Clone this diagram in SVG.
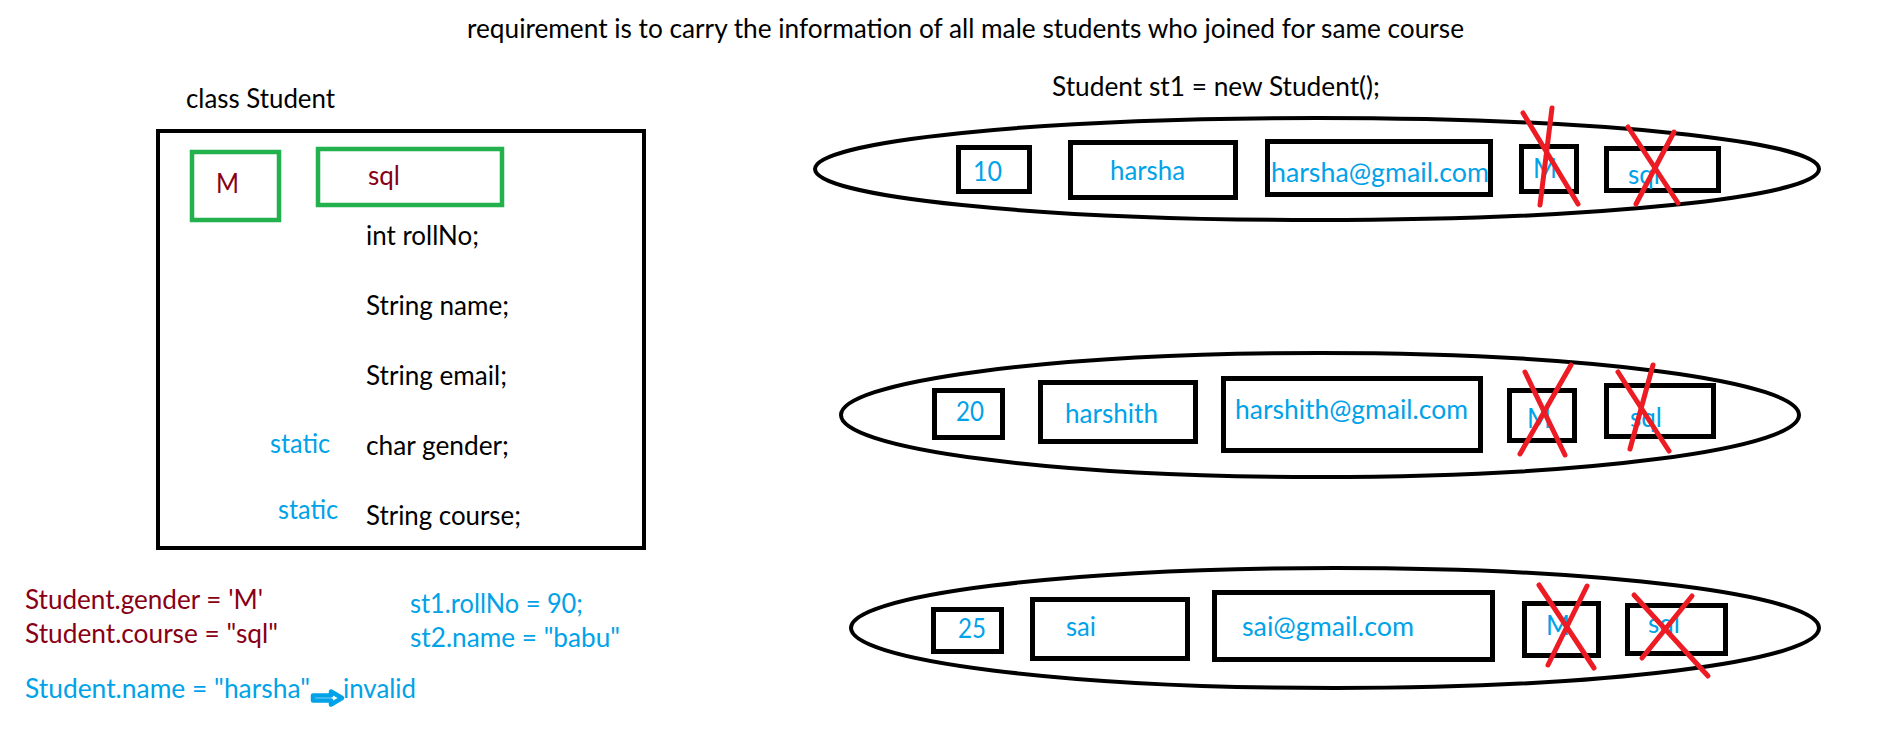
<svg xmlns="http://www.w3.org/2000/svg" width="1886" height="739" viewBox="0 0 1886 739">
<style>
text{font-family:Lato,"Liberation Sans",sans-serif;font-size:26px}
.k{fill:#000}
.b{fill:#00a2e8}
.r{fill:#880015}
.box{fill:none;stroke:#000;stroke-width:5}
.main{fill:none;stroke:#000;stroke-width:4}
.g{fill:none;stroke:#22b14c;stroke-width:4.5}
.ell{fill:none;stroke:#000;stroke-width:4}
.x{stroke:#ed1c24;stroke-width:5;stroke-linecap:round}
</style>
<rect width="1886" height="739" fill="#fff"/>

<g id="title">
<text class="k" x="467" y="38" textLength="997" lengthAdjust="spacingAndGlyphs">requirement is to carry the information of all male students who joined for same course</text>
</g>

<g id="class-student">
<text class="k" x="186" y="108" textLength="149" lengthAdjust="spacingAndGlyphs">class Student</text>
<rect class="main" x="158" y="131" width="486" height="417"/>
<rect class="g" x="192" y="152" width="87" height="68"/>
<text class="r" x="216" y="193" textLength="23" lengthAdjust="spacingAndGlyphs">M</text>
<rect class="g" x="318" y="149" width="184" height="56"/>
<text class="r" x="368" y="185" textLength="32" lengthAdjust="spacingAndGlyphs">sql</text>
<text class="k" x="366" y="245" textLength="113" lengthAdjust="spacingAndGlyphs">int rollNo;</text>
<text class="k" x="366" y="315" textLength="143" lengthAdjust="spacingAndGlyphs">String name;</text>
<text class="k" x="366" y="385" textLength="141" lengthAdjust="spacingAndGlyphs">String email;</text>
<text class="b" x="270" y="453" textLength="60" lengthAdjust="spacingAndGlyphs">static</text>
<text class="k" x="366" y="455" textLength="143" lengthAdjust="spacingAndGlyphs">char gender;</text>
<text class="b" x="278" y="519" textLength="60" lengthAdjust="spacingAndGlyphs">static</text>
<text class="k" x="366" y="525" textLength="155" lengthAdjust="spacingAndGlyphs">String course;</text>
</g>

<g id="static-assign">
<text class="r" x="25" y="609" textLength="238" lengthAdjust="spacingAndGlyphs">Student.gender = 'M'</text>
<text class="r" x="25" y="643" textLength="253" lengthAdjust="spacingAndGlyphs">Student.course = "sql"</text>
</g>

<g id="instance-assign">
<text class="b" x="410" y="613" textLength="173" lengthAdjust="spacingAndGlyphs">st1.rollNo = 90;</text>
<text class="b" x="410" y="647" textLength="210" lengthAdjust="spacingAndGlyphs">st2.name = "babu"</text>
</g>

<g id="invalid-note">
<text class="b" x="25" y="698" textLength="285" lengthAdjust="spacingAndGlyphs">Student.name = "harsha"</text>
<text class="b" x="343" y="698" textLength="73" lengthAdjust="spacingAndGlyphs">invalid</text>
</g>

<g id="connectors">
<polygon points="313,695.5 331,695.5 331,691.5 342,698 331,704.5 331,700.5 313,700.5" fill="#fff" stroke="#00a2e8" stroke-width="4.5" stroke-linejoin="round"/>
</g>

<g id="st1-label">
<text class="k" x="1052" y="96" textLength="328" lengthAdjust="spacingAndGlyphs">Student st1 = new Student();</text>
</g>

<g id="object-1">
<ellipse class="ell" cx="1317" cy="169" rx="502" ry="51"/>
<rect class="box" x="958.5" y="147.5" width="71" height="44"/>
<text class="b" x="973" y="181" textLength="29" lengthAdjust="spacingAndGlyphs">10</text>
<rect class="box" x="1070.5" y="142.5" width="165" height="55"/>
<text class="b" x="1110" y="180" textLength="75" lengthAdjust="spacingAndGlyphs">harsha</text>
<rect class="box" x="1267.5" y="141.5" width="223" height="53"/>
<text class="b" x="1271" y="182" textLength="218" lengthAdjust="spacingAndGlyphs">harsha@gmail.com</text>
<rect class="box" x="1521.5" y="146.5" width="55" height="45"/>
<text class="b" x="1533" y="178" textLength="24" lengthAdjust="spacingAndGlyphs">M</text>
<rect class="box" x="1606.5" y="148.5" width="112" height="42"/>
<text class="b" x="1628" y="184" textLength="32" lengthAdjust="spacingAndGlyphs">sql</text>
<line class="x" x1="1523" y1="113" x2="1578" y2="204"/>
<line class="x" x1="1552" y1="108" x2="1540" y2="205"/>
<line class="x" x1="1628" y1="127" x2="1678" y2="203"/>
<line class="x" x1="1674" y1="132" x2="1636" y2="204"/>
</g>

<g id="object-2">
<ellipse class="ell" cx="1320" cy="415" rx="479" ry="62"/>
<rect class="box" x="934.5" y="390.5" width="68" height="47"/>
<text class="b" x="956" y="421" textLength="28" lengthAdjust="spacingAndGlyphs">20</text>
<rect class="box" x="1040.5" y="382.5" width="155" height="59"/>
<text class="b" x="1065" y="423" textLength="93" lengthAdjust="spacingAndGlyphs">harshith</text>
<rect class="box" x="1223.5" y="378.5" width="257" height="72"/>
<text class="b" x="1235" y="419" textLength="233" lengthAdjust="spacingAndGlyphs">harshith@gmail.com</text>
<rect class="box" x="1509.5" y="390.5" width="65" height="50"/>
<text class="b" x="1527" y="428" textLength="24" lengthAdjust="spacingAndGlyphs">M</text>
<rect class="box" x="1606.5" y="385.5" width="107" height="51"/>
<text class="b" x="1630" y="427" textLength="32" lengthAdjust="spacingAndGlyphs">sql</text>
<line class="x" x1="1525" y1="372" x2="1565" y2="455"/>
<line class="x" x1="1571" y1="365" x2="1520" y2="454"/>
<line class="x" x1="1618" y1="372" x2="1669" y2="451"/>
<line class="x" x1="1653" y1="365" x2="1630" y2="449"/>
</g>

<g id="object-3">
<ellipse class="ell" cx="1335" cy="628" rx="484" ry="60"/>
<rect class="box" x="933.5" y="609.5" width="68" height="42"/>
<text class="b" x="958" y="638" textLength="28" lengthAdjust="spacingAndGlyphs">25</text>
<rect class="box" x="1032.5" y="599.5" width="155" height="59"/>
<text class="b" x="1066" y="636" textLength="30" lengthAdjust="spacingAndGlyphs">sai</text>
<rect class="box" x="1214.5" y="592.5" width="278" height="67"/>
<text class="b" x="1242" y="636" textLength="172" lengthAdjust="spacingAndGlyphs">sai@gmail.com</text>
<rect class="box" x="1524.5" y="603.5" width="74" height="52"/>
<text class="b" x="1546" y="635" textLength="24" lengthAdjust="spacingAndGlyphs">M</text>
<rect class="box" x="1627.5" y="605.5" width="98" height="48"/>
<text class="b" x="1648" y="633" textLength="32" lengthAdjust="spacingAndGlyphs">sql</text>
<line class="x" x1="1539" y1="585" x2="1594" y2="668"/>
<line class="x" x1="1587" y1="586" x2="1548" y2="665"/>
<line class="x" x1="1634" y1="595" x2="1708" y2="676"/>
<line class="x" x1="1692" y1="596" x2="1642" y2="658"/>
</g>
</svg>
